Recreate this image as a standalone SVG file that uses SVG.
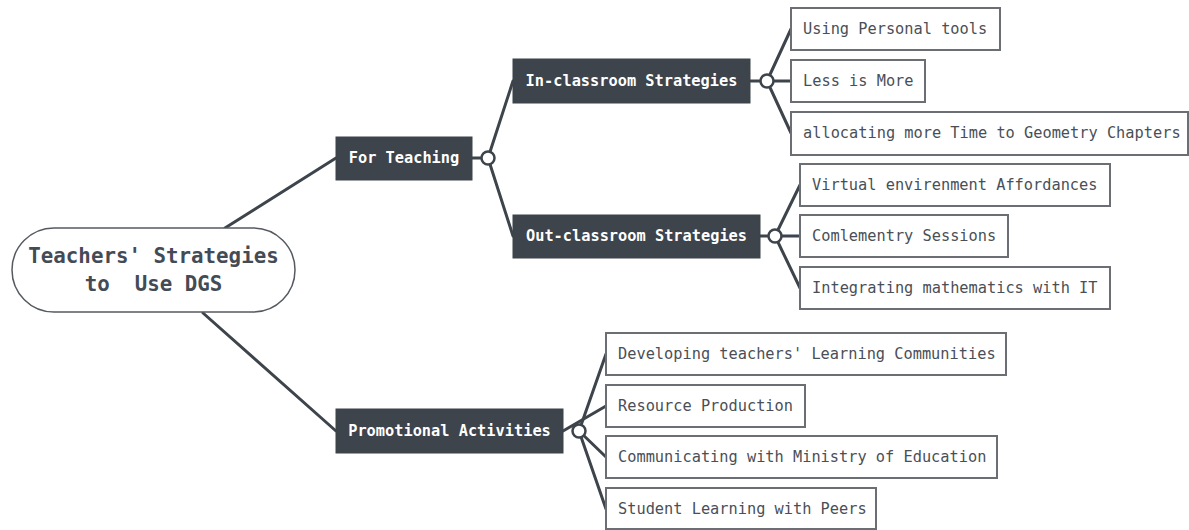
<svg xmlns="http://www.w3.org/2000/svg" width="1189" height="530" viewBox="0 0 1189 530">
<style>
text{font-family:"DejaVu Sans Mono","Liberation Mono",monospace;font-size:15.3px;dominant-baseline:central}
.dark rect{fill:#3d444b;stroke:#3d444b}
.dark text{fill:#ffffff;font-weight:bold;text-anchor:middle}
.leaf rect{fill:#ffffff;stroke:#6b6f73;stroke-width:2}
.leaf text{fill:#4a4f57}
.conn line{stroke:#3d444b;stroke-width:3;stroke-linecap:round}
.conn circle{fill:#ffffff;stroke:#3d444b;stroke-width:2.5}
</style>
<rect width="1189" height="530" fill="#ffffff"/>
<g id="connectors" class="conn">
<line x1="225" y1="228" x2="336" y2="158"/>
<line x1="203" y1="313" x2="336" y2="431"/>
<line x1="472" y1="158" x2="488" y2="158"/>
<line x1="488" y1="158" x2="513" y2="81"/>
<line x1="488" y1="158" x2="513" y2="236"/>
<line x1="750" y1="81" x2="791" y2="81"/>
<line x1="767" y1="81" x2="791" y2="29"/>
<line x1="767" y1="81" x2="791" y2="133"/>
<line x1="760" y1="236" x2="800" y2="236"/>
<line x1="775" y1="236" x2="800" y2="185"/>
<line x1="775" y1="236" x2="800" y2="288"/>
<line x1="563" y1="431" x2="606" y2="406"/>
<line x1="579" y1="431" x2="606" y2="354"/>
<line x1="579" y1="431" x2="606" y2="457"/>
<line x1="579" y1="431" x2="606" y2="509"/>
<circle cx="488" cy="158" r="6.5"/>
<circle cx="767" cy="81" r="6.5"/>
<circle cx="775" cy="236" r="6.5"/>
<circle cx="579" cy="431" r="6.5"/>
</g>
<g id="root">
<rect x="12" y="228" width="283" height="84" rx="42" fill="#ffffff" stroke="#555a60" stroke-width="1.5"/>
<text x="153.5" y="256" text-anchor="middle" font-weight="bold" style="font-size:20.8px" fill="#444b55">Teachers' Strategies</text>
<text x="153.5" y="284" text-anchor="middle" font-weight="bold" style="font-size:20.8px;white-space:pre" fill="#444b55" xml:space="preserve">to  Use DGS</text>
</g>
<g id="for-teaching" class="dark">
<rect x="336" y="137" width="136" height="43"/>
<text x="404" y="158">For Teaching</text>
</g>
<g id="in-classroom" class="dark">
<rect x="513" y="59" width="237" height="44"/>
<text x="631.5" y="81">In-classroom Strategies</text>
</g>
<g id="out-classroom" class="dark">
<rect x="513" y="215" width="247" height="43"/>
<text x="636.5" y="236">Out-classroom Strategies</text>
</g>
<g id="promotional" class="dark">
<rect x="336" y="409" width="227" height="44"/>
<text x="449.5" y="431">Promotional Activities</text>
</g>
<g id="leaf-personal-tools" class="leaf">
<rect x="791" y="8" width="209" height="42"/>
<text x="803" y="29">Using Personal tools</text>
</g>
<g id="leaf-less-more" class="leaf">
<rect x="791" y="60" width="134" height="42"/>
<text x="803" y="81">Less is More</text>
</g>
<g id="leaf-allocating" class="leaf">
<rect x="791" y="112" width="397" height="43"/>
<text x="803" y="133">allocating more Time to Geometry Chapters</text>
</g>
<g id="leaf-virtual" class="leaf">
<rect x="800" y="164" width="310" height="42"/>
<text x="812" y="185">Virtual envirenment Affordances</text>
</g>
<g id="leaf-comlementry" class="leaf">
<rect x="800" y="215" width="208" height="42"/>
<text x="812" y="236">Comlementry Sessions</text>
</g>
<g id="leaf-integrating" class="leaf">
<rect x="800" y="267" width="310" height="42"/>
<text x="812" y="288">Integrating mathematics with IT</text>
</g>
<g id="leaf-developing" class="leaf">
<rect x="606" y="333" width="400" height="42"/>
<text x="618" y="354">Developing teachers' Learning Communities</text>
</g>
<g id="leaf-resource" class="leaf">
<rect x="606" y="385" width="199" height="42"/>
<text x="618" y="406">Resource Production</text>
</g>
<g id="leaf-communicating" class="leaf">
<rect x="606" y="436" width="391" height="42"/>
<text x="618" y="457">Communicating with Ministry of Education</text>
</g>
<g id="leaf-student" class="leaf">
<rect x="606" y="488" width="270" height="41"/>
<text x="618" y="509">Student Learning with Peers</text>
</g>
</svg>
